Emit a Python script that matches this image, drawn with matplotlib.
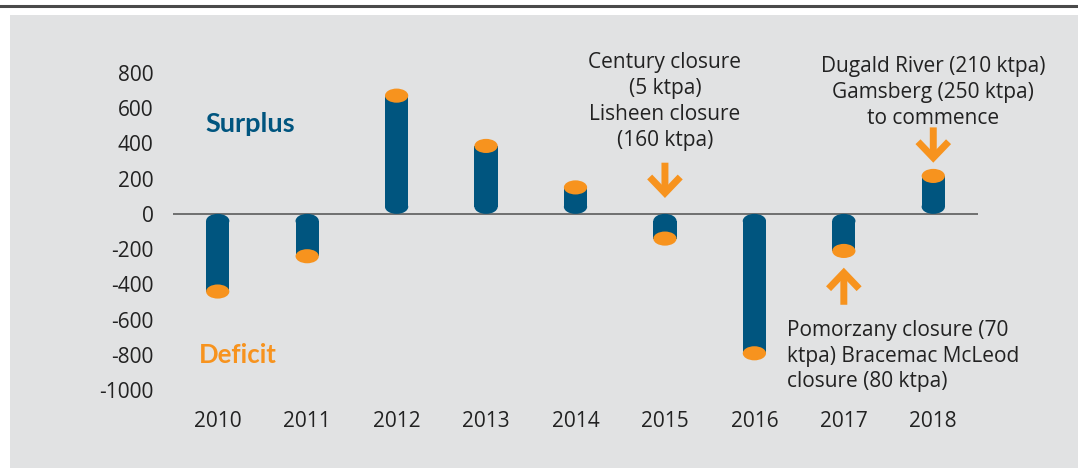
import matplotlib.pyplot as plt
from matplotlib.patches import Rectangle, Ellipse

plt.rcParams['font.family'] = ['Open Sans', 'DejaVu Sans']

years = ['2010', '2011', '2012', '2013', '2014', '2015', '2016', '2017', '2018']
balance = [-440, -240, 670, 385, 150, -140, -790, -210, 215]
yticks = [800, 600, 400, 200, 0, -200, -400, -600, -800, -1000]

note_2015 = 'Century closure\n(5 ktpa)\nLisheen closure\n(160 ktpa)'
note_2018 = 'Dugald River (210 ktpa)\nGamsberg (250 ktpa)\nto commence'
note_2017 = 'Pomorzany closure (70\nktpa) Bracemac McLeod\nclosure (80 ktpa)'

blue = '#00557f'
orange = '#f7931e'
panel = '#e1e2e3'
txt = '#222222'
fs = 15

fig = plt.figure(figsize=(10.78, 4.68), dpi=100, facecolor='white')
# grey panel and top rule
fig.add_artist(Rectangle((10 / 1078, 0), 1, (468 - 15) / 468, transform=fig.transFigure,
                         facecolor=panel, edgecolor='none', zorder=-5))
fig.add_artist(plt.Line2D([0, 1], [1 - 6 / 468, 1 - 6 / 468], transform=fig.transFigure,
                          color='#4a4a4a', lw=2.2, zorder=-5))

ax = fig.add_axes([173 / 1078, 60 / 468, 805 / 1078, 370.6 / 468])
ax.set_facecolor('none')
ax.set_xlim(-0.5, len(years) - 0.5)
ax.set_ylim(-1100, 1000)

w = 0.26    # cylinder width (data units)
eh = 80     # ellipse height (data units)
for i, v in enumerate(balance):
    s = 1 if v > 0 else -1
    base = s * eh / 2
    ax.add_patch(Rectangle((i - w / 2, min(base, v)), w, abs(v - base),
                           facecolor=blue, edgecolor='none', zorder=3))
    ax.add_patch(Ellipse((i, base), w, eh, facecolor=blue, edgecolor='none', zorder=3))
    ax.add_patch(Ellipse((i, v), w, eh, facecolor=orange, edgecolor='none', zorder=4))

ax.axhline(0, color='#666666', lw=1.3, zorder=2)

ax.set_xticks(range(len(years)))
ax.set_xticklabels(years, fontsize=fs, color=txt)
ax.set_yticks(yticks)
ax.set_yticklabels([str(t) for t in yticks], fontsize=fs, color=txt)
ax.tick_params(axis='both', length=0)
ax.tick_params(axis='y', pad=14)
ax.tick_params(axis='x', pad=2)
for sp in ax.spines.values():
    sp.set_visible(False)

ax.text(0.36, 510, 'Surplus', color=blue, fontsize=19.5, fontweight='bold', ha='center', va='center',
        family=['Lato', 'DejaVu Sans'])
ax.text(0.22, -800, 'Deficit', color=orange, fontsize=18.5, fontweight='bold', ha='center', va='center',
        family=['Lato', 'DejaVu Sans'])

arrow = dict(arrowstyle='->,head_length=1.15,head_width=1.1', lw=5, color=orange,
             mutation_scale=10, shrinkA=0, shrinkB=0, joinstyle='miter', capstyle='butt')
ax.annotate('', xy=(5, balance[5] + 230), xytext=(5, balance[5] + 430), arrowprops=arrow)
ax.annotate('', xy=(8, balance[8] + 75), xytext=(8, balance[8] + 275), arrowprops=arrow)
ax.annotate('', xy=(7, balance[7] - 95), xytext=(7, balance[7] - 305), arrowprops=arrow)

ax.text(5, 915, note_2015, fontsize=fs, color=txt, ha='center', va='top', linespacing=1.3)
ax.text(8, 895, note_2018, fontsize=fs, color=txt, ha='center', va='top', linespacing=1.3)
ax.text(6.37, -600, note_2017, fontsize=fs, color=txt, ha='left', va='top', linespacing=1.3)

fig.savefig('out.png', dpi=100)
